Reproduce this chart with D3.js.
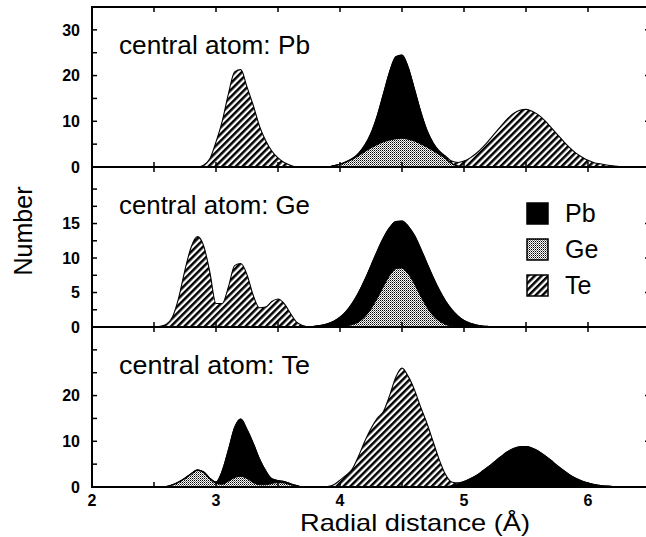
<!DOCTYPE html>
<html>
<head>
<meta charset="utf-8">
<script src="https://cdn.jsdelivr.net/npm/d3@7"></script>
<style>
  body { margin: 0; background: #fff; }
  svg { display: block; font-family: "Liberation Sans", Arial, sans-serif; }
</style>
</head>
<body>
<svg id="chart" width="646" height="537"></svg>
<script>
"use strict";

// Curves: [start radius, values every 0.05 Å]
const pbCentralGe = [[3.90, [0, 0.3, 0.6, 1.1, 1.7, 2.5, 3.4, 4.2, 4.9, 5.5, 5.9, 6.2, 6.3, 6.1, 5.7, 5.1, 4.4, 3.6, 2.8, 1.9, 0.8, 0.2, 0]]];
const pbCentralPb = [[4.05, [0.05, 0.15, 0.5, 1.4, 3.2, 6.3, 10.5, 14.9, 17.9, 18.2, 15.7, 11.4, 7.1, 3.7, 1.7, 0.6, 0.2, 0]]];
const pbCentralTe = [
  [2.85, [0, 0.4, 1.8, 5.5, 10, 16, 20.8, 21.3, 17.5, 13.5, 9, 5.8, 3.5, 2, 1, 0.4, 0]],
  [4.80, [0.1, 0.3, 0.5, 0.8, 1.3, 2.0, 3.0, 4.3, 5.8, 7.4, 9.0, 10.5, 11.7, 12.4, 12.6, 12.2, 11.4, 10.2, 8.7, 7.2, 5.7, 4.3, 3.1, 2.2, 1.45, 0.95, 0.7, 0.45, 0.25, 0.12, 0]]
];

const geCentralGe = [[3.95, [0, 0.05, 0.14, 0.35, 0.77, 1.52, 2.67, 4.2, 5.9, 7.5, 8.5, 8.57, 7.76, 6.3, 4.55, 2.95, 1.71, 0.89, 0.41, 0.17, 0.07, 0]]];
const geCentralPb = [[3.75, [0, 0.13, 0.26, 0.48, 0.85, 1.37, 2.14, 3.12, 4.23, 5.33, 6.23, 6.8, 7.0, 6.9, 6.8, 6.8, 6.85, 7.0, 6.85, 6.35, 5.54, 4.5, 3.4, 2.4, 1.55, 0.95, 0.55, 0.3, 0.15, 0.07, 0]]];
const geCentralTe = [[2.50, [0, 0.1, 0.4, 1.5, 4.3, 8.3, 11.6, 13.1, 11.8, 8.0, 3.4, 3.4, 5.8, 8.9, 9.2, 7.6, 4.6, 2.8, 2.9, 3.7, 4.05, 3.4, 2.0, 0.7, 0.2, 0]]];

const teCentralGe = [[2.55, [0, 0.1, 0.5, 1.1, 1.9, 2.9, 3.7, 3.3, 1.9, 0.8, 0.6, 1.3, 2.1, 2.35, 1.9, 1.0, 0.5, 0.5, 0.8, 1.0, 0.9, 0.5, 0.2, 0]]];
const teCentralPb = [
  [2.95, [0, 0.3, 2.9, 6.8, 10.9, 12.5, 10.7, 8.6, 5.7, 3.1, 1.0, 0.4, 0.3, 0.2, 0.1, 0]],
  [4.85, [0, 0.3, 0.7, 1.2, 1.8, 2.5, 3.5, 4.5, 5.6, 6.7, 7.7, 8.4, 8.8, 8.87, 8.5, 7.85, 6.9, 5.85, 4.7, 3.65, 2.7, 1.9, 1.3, 0.85, 0.53, 0.32, 0.2, 0.1, 0.05, 0]]
];
const teCentralTe = [[3.85, [0, 0.1, 0.5, 1.5, 2.6, 4.0, 6.8, 10.0, 12.8, 15.0, 16.5, 20.0, 24.0, 26.0, 24.2, 21.3, 17.5, 14.0, 10.0, 6.0, 2.8, 0.8, 0.2, 0]]];

const elements = ["Ge", "Pb", "Te"];   // stacking order, bottom first
const legendOrder = ["Pb", "Ge", "Te"];

const xTicks = [2, 2.5, 3, 3.5, 4, 4.5, 5, 5.5, 6];
const xLabels = [2, 3, 4, 5, 6];
const yTicksPb = [0, 5, 10, 15, 20, 25, 30];
const yLabelsPb = [0, 10, 20, 30];
const yTicksGe = [0, 2.5, 5, 7.5, 10, 12.5, 15, 17.5, 20];
const yLabelsGe = [0, 5, 10, 15];
const yTicksTe = [0, 5, 10, 15, 20, 25, 30];
const yLabelsTe = [0, 10, 20];

const panels = [
  { title: "central atom: Pb", top: 7, yMax: 35, ticks: yTicksPb, labels: yLabelsPb,
    series: { Ge: pbCentralGe, Pb: pbCentralPb, Te: pbCentralTe } },
  { title: "central atom: Ge", top: 167, yMax: 23.2, ticks: yTicksGe, labels: yLabelsGe,
    series: { Ge: geCentralGe, Pb: geCentralPb, Te: geCentralTe } },
  { title: "central atom: Te", top: 327, yMax: 35, ticks: yTicksTe, labels: yLabelsTe,
    series: { Ge: teCentralGe, Pb: teCentralPb, Te: teCentralTe } }
];

const step = 0.05, r0 = 2.5, nPts = 79;   // sampling grid 2.50 … 6.40 Å
const panelH = 160, left = 92, right = 650;

const svg = d3.select("#chart");
const x = d3.scaleLinear().domain([2, 6.5]).range([left, right]);

// fill patterns
const defs = svg.append("defs");
const stip = defs.append("pattern").attr("id", "stipple")
  .attr("patternUnits", "userSpaceOnUse").attr("width", 2).attr("height", 2);
stip.append("rect").attr("width", 2).attr("height", 2).attr("fill", "#fff");
stip.append("rect").attr("width", 1).attr("height", 1).attr("fill", "#000");
stip.append("rect").attr("x", 1).attr("y", 1).attr("width", 1).attr("height", 1).attr("fill", "#777");

const hatch = defs.append("pattern").attr("id", "hatch")
  .attr("patternUnits", "userSpaceOnUse").attr("width", 4.8).attr("height", 4.8)
  .attr("patternTransform", "rotate(45)");
hatch.append("rect").attr("width", 4.8).attr("height", 4.8).attr("fill", "#fff");
hatch.append("rect").attr("width", 2.5).attr("height", 4.8).attr("fill", "#000");

const fills = { Pb: "#000", Ge: "url(#stipple)", Te: "url(#hatch)" };

function buildRows(series) {
  const rows = d3.range(nPts).map(i => {
    const row = { r: +(r0 + i * step).toFixed(2) };
    elements.forEach(k => row[k] = 0);
    return row;
  });
  elements.forEach(k => {
    series[k].forEach(([start, vals]) => {
      const i0 = Math.round((start - r0) / step);
      vals.forEach((v, j) => { if (rows[i0 + j]) rows[i0 + j][k] = v; });
    });
  });
  return rows;
}

panels.forEach((p, pi) => {
  const y = d3.scaleLinear().domain([0, p.yMax]).range([p.top + panelH, p.top]);
  const g = svg.append("g");

  g.append("clipPath").attr("id", "clip" + pi)
    .append("rect").attr("x", left).attr("y", p.top).attr("width", right - left).attr("height", panelH);

  const stacked = d3.stack().keys(elements)(buildRows(p.series));

  const area = d3.area()
    .x(d => x(d.data.r)).y0(d => y(d[0])).y1(d => y(d[1]))
    .curve(d3.curveMonotoneX);
  const top = d3.line()
    .x(d => x(d.data.r)).y(d => y(d[1]))
    .curve(d3.curveMonotoneX);

  const plot = g.append("g").attr("clip-path", `url(#clip${pi})`);
  plot.selectAll("path.area").data(stacked).enter().append("path")
    .attr("class", "area")
    .attr("d", area)
    .attr("fill", d => fills[d.key]);
  plot.selectAll("path.edge").data(stacked).enter().append("path")
    .attr("class", "edge")
    .attr("d", top)
    .attr("fill", "none")
    .attr("stroke", "#000")
    .attr("stroke-width", 1.1);

  // frame
  g.append("rect")
    .attr("x", left).attr("y", p.top).attr("width", right - left).attr("height", panelH)
    .attr("fill", "none").attr("stroke", "#000").attr("stroke-width", 2);

  // x ticks, inward at top and bottom
  xTicks.forEach(t => {
    g.append("line").attr("x1", x(t)).attr("x2", x(t)).attr("y1", p.top).attr("y2", p.top + 5)
      .attr("stroke", "#000").attr("stroke-width", 1.5);
    g.append("line").attr("x1", x(t)).attr("x2", x(t)).attr("y1", p.top + panelH).attr("y2", p.top + panelH - 5)
      .attr("stroke", "#000").attr("stroke-width", 1.5);
  });

  // y ticks
  p.ticks.forEach(t => {
    g.append("line").attr("x1", left).attr("x2", left + 5).attr("y1", y(t)).attr("y2", y(t))
      .attr("stroke", "#000").attr("stroke-width", 1.5);
  });
  p.labels.forEach(t => {
    g.append("line").attr("x1", right - 5).attr("x2", right).attr("y1", y(t)).attr("y2", y(t))
      .attr("stroke", "#000").attr("stroke-width", 1.5);
    g.append("text")
      .attr("x", 80).attr("y", y(t)).attr("dy", "0.36em")
      .attr("text-anchor", "end")
      .attr("font-size", 16).attr("font-weight", "bold")
      .text(t);
  });

  g.append("text")
    .attr("x", 119).attr("y", p.top + 47)
    .attr("font-size", 25)
    .attr("textLength", 191).attr("lengthAdjust", "spacingAndGlyphs")
    .text(p.title);
});

// x tick labels under the bottom panel
svg.append("g").selectAll("text").data(xLabels).enter().append("text")
  .attr("x", d => x(d)).attr("y", 506)
  .attr("text-anchor", "middle")
  .attr("font-size", 16).attr("font-weight", "bold")
  .text(d => d);

svg.append("text")
  .attr("x", 415).attr("y", 531)
  .attr("text-anchor", "middle")
  .attr("font-size", 24)
  .attr("textLength", 230).attr("lengthAdjust", "spacingAndGlyphs")
  .text("Radial distance (Å)");

svg.append("text")
  .attr("transform", "translate(32,231) rotate(-90)")
  .attr("text-anchor", "middle")
  .attr("font-size", 25)
  .text("Number");

// legend in the middle panel
const legend = svg.append("g").selectAll("g").data(legendOrder).enter().append("g")
  .attr("transform", (d, i) => `translate(527,${203 + i * 36})`);
legend.append("rect")
  .attr("width", 21).attr("height", 21)
  .attr("fill", d => fills[d])
  .attr("stroke", "#000").attr("stroke-width", 1.5);
legend.append("text")
  .attr("x", 38).attr("y", 19)
  .attr("font-size", 25)
  .text(d => d);
</script>
</body>
</html>
